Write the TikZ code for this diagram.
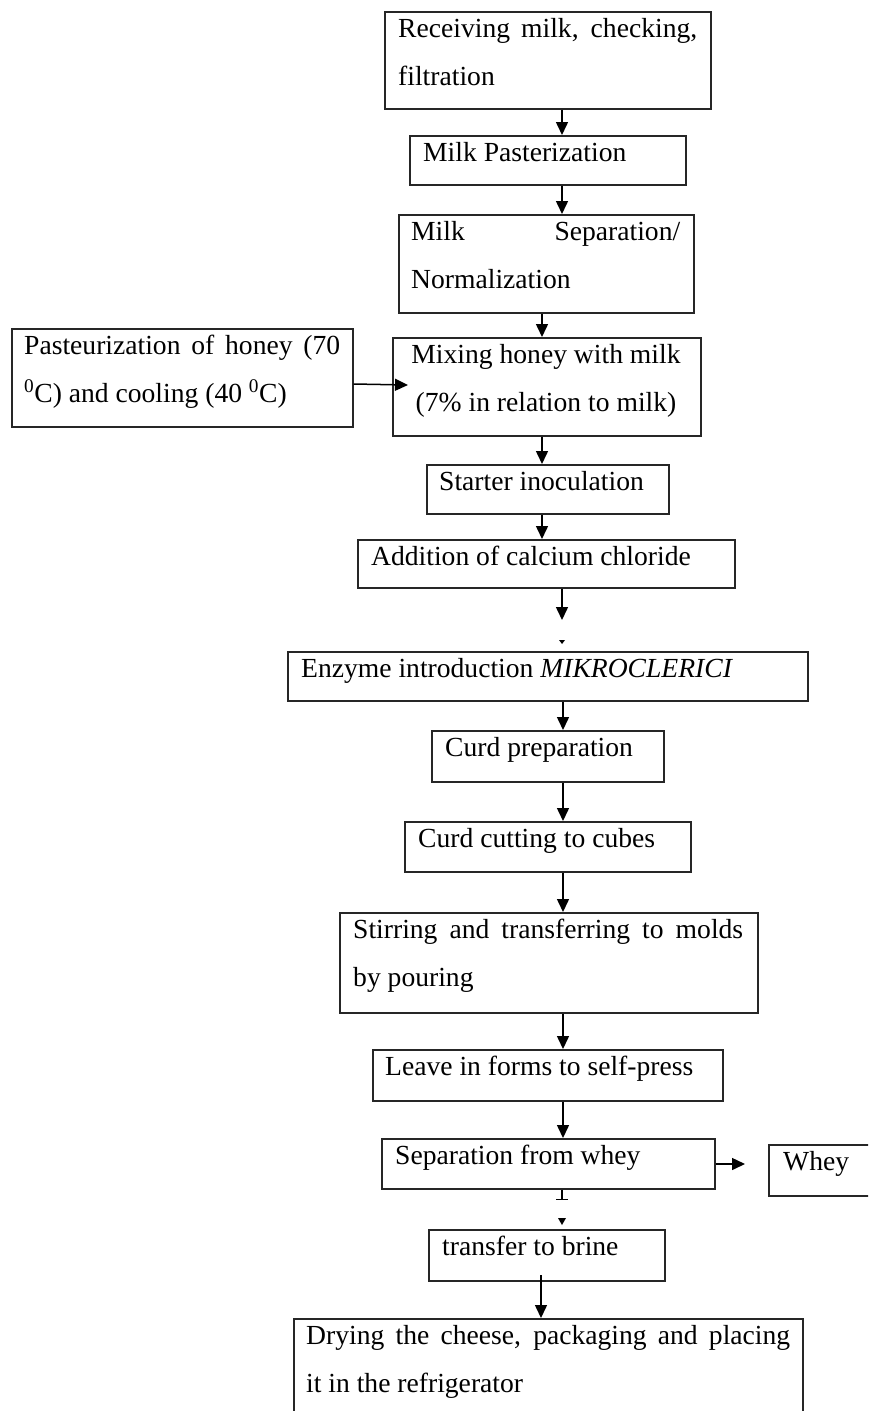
\documentclass[tikz,border=0pt]{standalone}
\usepackage{fontspec}
\setmainfont{Liberation Serif}
\usetikzlibrary{arrows.meta}
\begin{document}
\begin{tikzpicture}[x=1pt,y=-1pt,
  box/.style={draw=black!85, line width=1.6pt, inner sep=0pt, anchor=north west},
  lbl/.style={inner sep=0pt, anchor=base west, font=\fontsize{27.6}{48}\selectfont},
  clbl/.style={inner sep=0pt, anchor=base, font=\fontsize{27.6}{48}\selectfont},
  arr/.style={line width=1.5pt, -{Triangle[length=13pt,width=12pt]}},
  tickline/.style={line width=1.5pt, -{Bar[width=12pt,line width=1.5pt]}},
]
\clip (0,0) rectangle (868,1411);
\fill[white] (0,0) rectangle (868,1411);
% boxes
\node[box, minimum width=326pt, minimum height=97pt]  (recv)    at (384,11) {};
\node[box, minimum width=276pt, minimum height=49pt]  (past)    at (409,135) {};
\node[box, minimum width=295pt, minimum height=98pt]  (sep)     at (398,214) {};
\node[box, minimum width=341pt, minimum height=98pt]  (honey)   at (11,328) {};
\node[box, minimum width=308pt, minimum height=98pt]  (mix)     at (392,337) {};
\node[box, minimum width=242pt, minimum height=49pt]  (starter) at (426,464) {};
\node[box, minimum width=377pt, minimum height=48pt]  (calc)    at (357,539) {};
\node[box, minimum width=520pt, minimum height=49pt]  (enz)     at (287,651) {};
\node[box, minimum width=232pt, minimum height=51pt]  (curdp)   at (431,730) {};
\node[box, minimum width=286pt, minimum height=50pt]  (cut)     at (404,821) {};
\node[box, minimum width=418pt, minimum height=100pt] (stir)    at (339,912) {};
\node[box, minimum width=350pt, minimum height=51pt]  (leave)   at (372,1049) {};
\node[box, minimum width=333pt, minimum height=50pt]  (sepw)    at (381,1138) {};
\node[box, minimum width=120pt, minimum height=51pt]  (whey)    at (768,1144) {};
\node[box, minimum width=236pt, minimum height=51pt]  (trans)   at (428,1229) {};
\node[box, minimum width=509pt, minimum height=120pt] (dry)     at (293,1318) {};
% texts
\node[lbl] (recv1) at (398,37) {\makebox[299pt][s]{Receiving milk, checking,}};
\node[lbl] (recv2) at (398,85) {filtration};
\node[lbl] (past1) at (423,161) {Milk Pasterization};
\node[lbl] (sep1) at (411,240) {\makebox[269pt][s]{Milk Separation/}};
\node[lbl] (sep2) at (411,288) {Normalization};
\node[lbl] (hon1) at (24,354) {\makebox[316pt][s]{Pasteurization of honey (70}};
\node[lbl] (hon2) at (24,402) {\textsuperscript{0}C) and cooling (40 \textsuperscript{0}C)};
\node[clbl] (mix1) at (546,363) {Mixing honey with milk};
\node[clbl] (mix2) at (546,411) {(7\% in relation to milk)};
\node[lbl] (sta1) at (439,490) {Starter inoculation};
\node[lbl] (cal1) at (371,565) {Addition of calcium chloride};
\node[lbl] (enz1) at (301,677) {Enzyme introduction \textit{MIKROCLERICI}};
\node[lbl] (cur1) at (445,756) {Curd preparation};
\node[lbl] (cut1) at (418,847) {Curd cutting to cubes};
\node[lbl] (sti1) at (353,938) {\makebox[390pt][s]{Stirring and transferring to molds}};
\node[lbl] (sti2) at (353,986) {by pouring};
\node[lbl] (lea1) at (385,1075) {Leave in forms to self-press};
\node[lbl] (sew1) at (395,1164) {Separation from whey};
\node[lbl] (whe1) at (783,1170) {Whey};
\node[lbl] (tra1) at (442,1255) {transfer to brine};
\node[lbl] (dry1) at (306,1344) {\makebox[484pt][s]{Drying the cheese, packaging and placing}};
\node[lbl] (dry2) at (306,1392) {it in the refrigerator};
% helper coordinates
\coordinate (xa) at (562,0);
\coordinate (xb) at (542,0);
\coordinate (xc) at (563,0);
\coordinate (xd) at (541,0);
\coordinate (hy) at (0,384);
\coordinate (htip) at (408,385);
\coordinate (wy) at (0,1164);
\coordinate (wtip) at (745,1164);
\coordinate (a6end) at (562,620);
\coordinate (tbar) at (562,1200);
\coordinate (t14s) at (541,1275);
% connectors
\draw[arr] (recv.south -| xa) -- (past.north -| xa);
\draw[arr] (past.south -| xa) -- (sep.north -| xa);
\draw[arr] (sep.south -| xb) -- (mix.north -| xb);
\draw[arr] (honey.east |- hy) -- (htip);
\draw[arr] (mix.south -| xb) -- (starter.north -| xb);
\draw[arr] (starter.south -| xb) -- (calc.north -| xb);
\draw[arr] (calc.south -| xa) -- (a6end);
\fill (559,640) -- (565,640) -- (562,644) -- cycle;
\draw[arr] (enz.south -| xc) -- (curdp.north -| xc);
\draw[arr] (curdp.south -| xc) -- (cut.north -| xc);
\draw[arr] (cut.south -| xc) -- (stir.north -| xc);
\draw[arr] (stir.south -| xc) -- (leave.north -| xc);
\draw[arr] (leave.south -| xc) -- (sepw.north -| xc);
\draw[arr] (sepw.east |- wy) -- (wtip);
\draw[tickline] (sepw.south -| xa) -- (tbar);
\fill (558,1218) -- (566,1218) -- (562,1225) -- cycle;
\draw[arr] (t14s) -- (dry.north -| xd);
\end{tikzpicture}
\end{document}
